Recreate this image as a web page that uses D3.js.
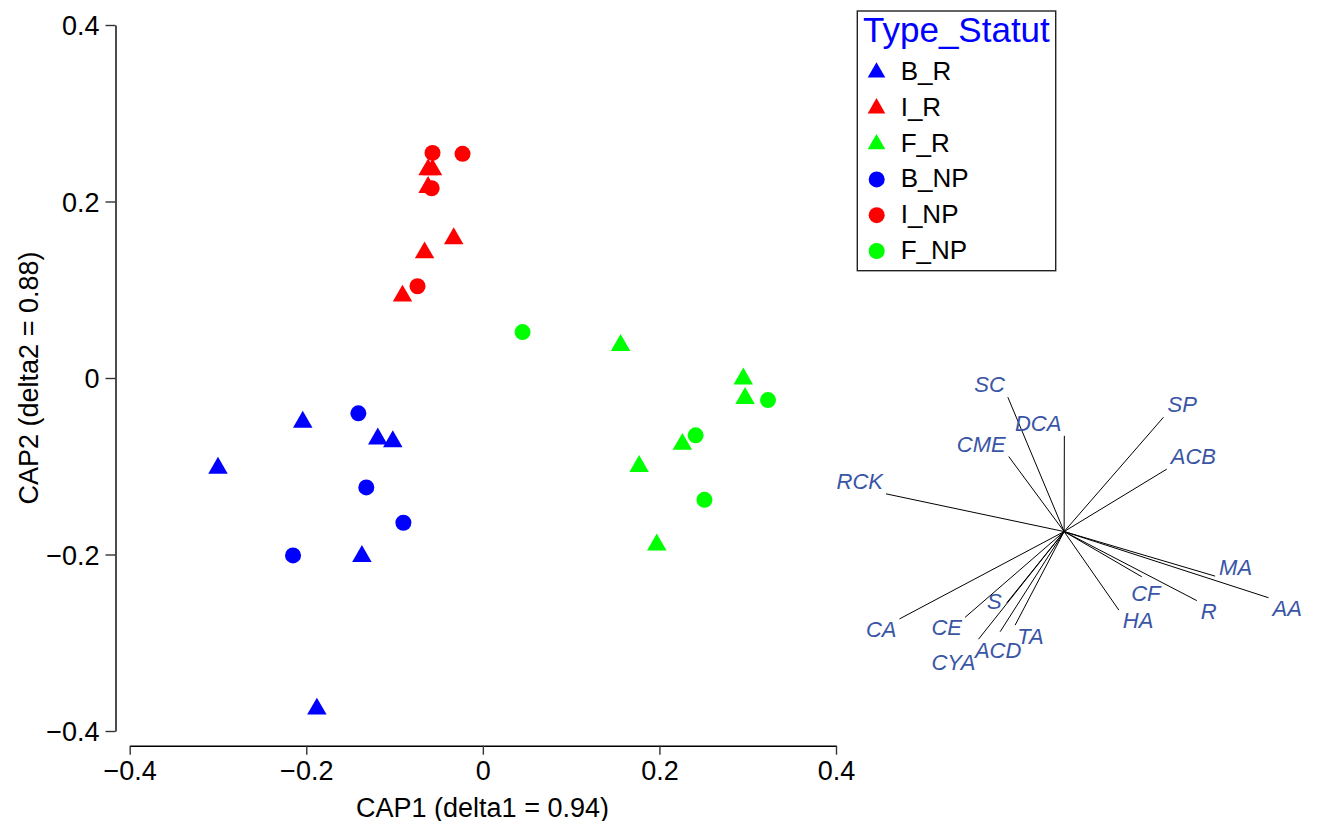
<!DOCTYPE html>
<html><head><meta charset="utf-8">
<script src="https://cdn.jsdelivr.net/npm/d3@7"></script>
<style>body{margin:0;background:#fff}svg{display:block}text{font-family:Arial,"Liberation Sans",sans-serif}</style>
</head><body>
<svg id="c" width="1317" height="821"></svg>
<script>
// ---- data ----
const groups = ["B_R","I_R","F_R","B_NP","I_NP","F_NP"];
const groupShape = ["triangle","triangle","triangle","circle","circle","circle"];
const groupColor = ["#0000ff","#ff0000","#00ff00","#0000ff","#ff0000","#00ff00"];
const B_R_x = [-0.204,-0.300,-0.119,-0.102,-0.137,-0.188];
const B_R_y = [-0.050,-0.102,-0.069,-0.072,-0.202,-0.375];
const I_R_x = [-0.062,-0.057,-0.062,-0.066,-0.033,-0.091];
const I_R_y = [0.236,0.236,0.216,0.142,0.158,0.093];
const F_R_x = [0.156,0.295,0.297,0.226,0.177,0.197];
const F_R_y = [0.037,-0.001,-0.023,-0.075,-0.100,-0.189];
const B_NP_x = [-0.141,-0.132,-0.090,-0.215];
const B_NP_y = [-0.040,-0.124,-0.164,-0.201];
const I_NP_x = [-0.057,-0.023,-0.058,-0.074];
const I_NP_y = [0.255,0.254,0.215,0.104];
const F_NP_x = [0.045,0.323,0.241,0.251];
const F_NP_y = [0.052,-0.025,-0.065,-0.138];
const xTicks = [-0.4,-0.2,0,0.2,0.4];
const yTicks = [-0.4,-0.2,0,0.2,0.4];
const xTitle = "CAP1 (delta1 = 0.94)";
const yTitle = "CAP2 (delta2 = 0.88)";
const legendTitle = "Type_Statut";
// vector overlay (correlations with CAP axes)
const vecNames = ["SC","DCA","CME","RCK","SP","ACB","MA","AA","CF","R","HA","TA","ACD","CYA","S","CE","CA"];
const vecX = [-0.255,0.001,-0.251,-0.807,0.450,0.465,0.684,0.926,0.352,0.601,0.248,-0.222,-0.290,-0.388,-0.260,-0.449,-0.746];
const vecY = [0.609,0.434,0.340,0.171,0.518,0.283,-0.202,-0.300,-0.205,-0.313,-0.356,-0.424,-0.454,-0.488,-0.323,-0.389,-0.396];
const vecOrigin = [0.6584,-0.1740];
const vecRadius = 0.25;

const series = {B_R:[B_R_x,B_R_y],I_R:[I_R_x,I_R_y],F_R:[F_R_x,F_R_y],B_NP:[B_NP_x,B_NP_y],I_NP:[I_NP_x,I_NP_y],F_NP:[F_NP_x,F_NP_y]};

// ---- drawing ----
const svg = d3.select("#c");
const x = d3.scaleLinear().domain([-0.4,0.4]).range([129.7,836]);
const y = d3.scaleLinear().domain([-0.4,0.4]).range([731,25]);
const fs = 27;

const xAxis = svg.append("g").attr("transform","translate(0,745.7)")
  .call(d3.axisBottom(x).tickValues(xTicks).tickSize(9).tickSizeOuter(0).tickFormat(d=>d===0?"0":d3.format("")(d)));
const yAxis = svg.append("g").attr("transform","translate(115.5,0)")
  .call(d3.axisLeft(y).tickValues(yTicks).tickSize(10).tickSizeOuter(0).tickFormat(d=>d===0?"0":d3.format("")(d)));
[xAxis,yAxis].forEach(g=>{
  g.select(".domain").attr("stroke","#000").attr("stroke-width",1.4);
  g.selectAll(".tick line").attr("stroke","#333").attr("stroke-width",1.4);
  g.selectAll(".tick text").attr("fill","#000").style("font-size",fs+"px").style("font-family",'Arial,"Liberation Sans",sans-serif');
});
xAxis.selectAll(".tick text").attr("y",null).attr("dy",null).attr("transform","translate(0,34.3)");
yAxis.selectAll(".tick text").attr("x",-16).attr("dy","0.36em");

svg.append("text").attr("x",482.5).attr("y",816.5).attr("text-anchor","middle").style("font-size",fs+"px").text(xTitle);
svg.append("text").attr("transform","translate(38,378) rotate(-90)").attr("text-anchor","middle").style("font-size",fs+"px").text(yTitle);

// vectors
const ox = x(vecOrigin[0]), oy = y(vecOrigin[1]);
const vx = d=>x(vecOrigin[0]+d*vecRadius), vy = d=>y(vecOrigin[1]+d*vecRadius);
const vg = svg.append("g");
const nudge = {MA:{dy:-19}, CF:{anchor:"middle",dx:4,dy:6}, ACD:{anchor:"middle",dx:-2,dy:8}, S:{dx:-2,dy:-12}, CYA:{dy:13}, TA:{anchor:"start",dx:2,dy:1}};
vecNames.forEach((n,i)=>{
  const ex = vx(vecX[i]), ey = vy(vecY[i]);
  vg.append("line").attr("x1",ox).attr("y1",oy).attr("x2",ex).attr("y2",ey).attr("stroke","#000").attr("stroke-width",1);
  const right = vecX[i] > 0.01, up = vecY[i] > 0;
  let anchor = right ? "start" : "end";
  let tx = ex + (right ? 4 : -3);
  let ty = up ? ey - 5 : ey + 18;
  const nd = nudge[n];
  if (nd){ if(nd.anchor){anchor=nd.anchor; tx=ex;} tx += nd.dx||0; ty += nd.dy||0; }
  vg.append("text").attr("x",tx).attr("y",ty).attr("text-anchor",anchor)
    .style("font-size","22px").style("font-style","italic").attr("fill","#3a55a6").text(n);
});

// points: triangles first, then circles
const triSym = d3.symbol().type(d3.symbolTriangle).size(165);
const pg = svg.append("g");
groups.forEach((g,gi)=>{
  const [xs,ys] = series[g];
  xs.forEach((xv,j)=>{
    if(groupShape[gi]==="triangle"){
      pg.append("path").attr("d",triSym()).attr("transform",`translate(${x(xv)},${y(ys[j])})`).attr("fill",groupColor[gi]);
    } else {
      pg.append("circle").attr("cx",x(xv)).attr("cy",y(ys[j])).attr("r",8).attr("fill",groupColor[gi]);
    }
  });
});

// legend
const lg = svg.append("g");
lg.append("rect").attr("x",857.3).attr("y",11).attr("width",198.4).attr("height",259.7).attr("fill","#fff").attr("stroke","#222").attr("stroke-width",1.4);
lg.append("text").attr("x",863).attr("y",42).attr("fill","#0000ff").style("font-size","35px").text(legendTitle);
const legSym = d3.symbol().type(d3.symbolTriangle).size(135);
groups.forEach((g,i)=>{
  const base = 80 + i*35.8;
  if(groupShape[i]==="triangle"){
    lg.append("path").attr("d",legSym()).attr("transform",`translate(876.5,${base-7.5})`).attr("fill",groupColor[i]);
  } else {
    lg.append("circle").attr("cx",876.7).attr("cy",base-8).attr("r",8).attr("fill",groupColor[i]);
  }
  lg.append("text").attr("x",900.7).attr("y",base).style("font-size","26px").attr("fill","#000").text(g);
});
</script>
</body></html>
